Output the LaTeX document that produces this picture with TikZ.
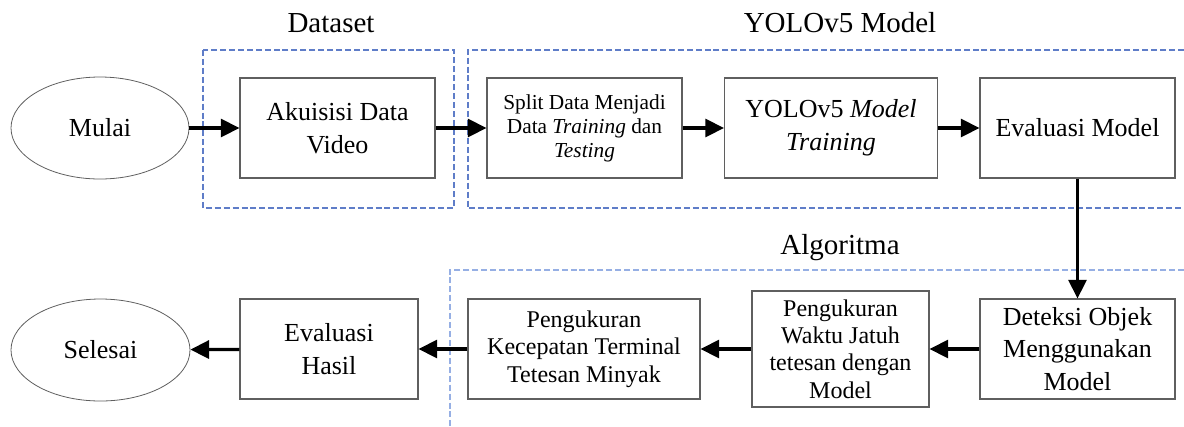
\documentclass[tikz,border=0pt]{standalone}
\usepackage{fontspec}
\setmainfont{Liberation Serif}
\usetikzlibrary{arrows.meta,shapes.geometric}
\definecolor{dashtop}{RGB}{95,125,200}
\definecolor{dashlow}{RGB}{150,175,228}
\definecolor{boxgray}{RGB}{95,95,95}
\tikzset{
  box/.style={draw=boxgray, line width=0.8pt, rectangle, align=center, inner sep=2pt,
    font=\fontsize{19.5}{24.5}\selectfont},
  smallbox/.style={box, font=\fontsize{18}{20.5}\selectfont},
  tinybox/.style={box, font=\fontsize{16}{18}\selectfont},
  term/.style={draw=boxgray, line width=0.6pt, ellipse, inner sep=0pt,
    font=\fontsize{19.5}{24.5}\selectfont},
  arr/.style={line width=2.4pt, -{Triangle[length=14pt, width=13.5pt]}},
  grouptop/.style={draw=dashtop, line width=0.8pt, dash pattern=on 4.5pt off 2.2pt},
  grouplow/.style={draw=dashlow, line width=0.8pt, dash pattern=on 4.5pt off 2.2pt},
  title/.style={anchor=base, font=\fontsize{21.75}{25}\selectfont, inner sep=0pt}
}
\begin{document}
\begin{tikzpicture}[x=0.75pt, y=-0.75pt]
\useasboundingbox (0,0) rectangle (1184,426);
% group frames
\draw[grouptop] (203,50) rectangle (454,208);
\draw[grouptop] (1184,50) -- (468,50) -- (468,208) -- (1184,208);
\draw[grouplow] (1184,270) -- (450,270) -- (450,426);
% titles
\node[title] (tdata) at (331,32) {Dataset};
\node[title] (tyolo) at (840,32) {YOLOv5 Model};
\node[title] (talgo) at (840,254) {Algoritma};
% top row
\node[term, minimum width=133.5pt, minimum height=76.5pt] (mulai) at (100,128) {Mulai};
\node[box, minimum width=146.25pt, minimum height=75pt] (akuisisi) at (337.5,128) {Akuisisi Data\\Video};
\node[tinybox, minimum width=146.25pt, minimum height=75pt] (split) at (584.5,128) {Split Data Menjadi\\Data \textit{Training} dan\\\textit{Testing}};
\node[box, minimum width=159.75pt, minimum height=75pt] (yolo) at (831,128) {YOLOv5 \textit{Model}\\\textit{Training}};
\node[box, minimum width=146.25pt, minimum height=75pt] (evalm) at (1077.5,128) {Evaluasi Model};
% bottom row
\node[box, minimum width=146.25pt, minimum height=75pt] (deteksi) at (1077.5,349) {Deteksi Objek\\Menggunakan\\Model};
\node[smallbox, minimum width=132.75pt, minimum height=87pt] (waktu) at (840.5,349) {Pengukuran\\Waktu Jatuh\\tetesan dengan\\Model};
\node[smallbox, minimum width=174pt, minimum height=75pt] (kecepatan) at (584,349) {Pengukuran\\Kecepatan Terminal\\Tetesan Minyak};
\node[box, minimum width=133.5pt, minimum height=75pt] (evalh) at (329,349) {Evaluasi\\Hasil};
\node[term, minimum width=134.25pt, minimum height=76.5pt] (selesai) at (100.5,350) {Selesai};
% connectors
\draw[arr] (mulai) -- (akuisisi);
\draw[arr] (akuisisi) -- (split);
\draw[arr] (split) -- (yolo);
\draw[arr] (yolo) -- (evalm);
\draw[arr] (evalm) -- (deteksi);
\draw[arr] (deteksi) -- (waktu);
\draw[arr] (waktu) -- (kecepatan);
\draw[arr] (kecepatan) -- (evalh);
\draw[arr] (evalh) -- (selesai);
\end{tikzpicture}
\end{document}
